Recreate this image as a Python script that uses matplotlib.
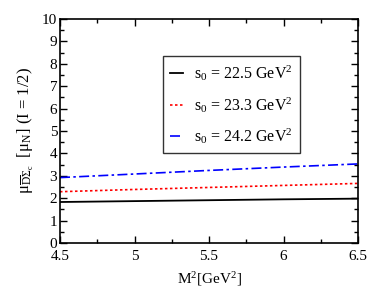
import numpy as np
import matplotlib
matplotlib.use("Agg")
import matplotlib.pyplot as plt
from matplotlib.ticker import MultipleLocator

plt.rcParams['font.family'] = ['Liberation Serif', 'DejaVu Serif']
plt.rcParams['mathtext.fontset'] = 'custom'
plt.rcParams['mathtext.rm'] = 'Liberation Serif'
plt.rcParams['mathtext.it'] = 'Liberation Serif:italic'
plt.rcParams['mathtext.bf'] = 'Liberation Serif:bold'

m2 = [4.5, 5.0, 5.5, 6.0, 6.5]
mu_225 = [1.83, 1.87, 1.91, 1.95, 1.98]
mu_233 = [2.29, 2.39, 2.48, 2.57, 2.66]
mu_242 = [2.92, 3.08, 3.24, 3.39, 3.53]
labels = [r'$\mathregular{s_0}$ = 22.5 GeV$\mathregular{^2}$',
          r'$\mathregular{s_0}$ = 23.3 GeV$\mathregular{^2}$',
          r'$\mathregular{s_0}$ = 24.2 GeV$\mathregular{^2}$']

fig = plt.figure(figsize=(3.74, 2.89), dpi=100)
ax = fig.add_axes([60/374, 1 - 243/289, 298/374, 224/289])

ax.plot(m2, mu_225, color='black', lw=1.3, ls='-', label=labels[0])
ax.plot(m2, mu_233, color='red', lw=1.2, ls=(0, (1.5, 1.5)), label=labels[1])
ax.plot(m2, mu_242, color='blue', lw=1.2, ls=(0, (6, 2, 1.5, 2)), label=labels[2])

ax.set_xlim(4.5, 6.5)
ax.set_ylim(0, 10)
ax.xaxis.set_major_locator(MultipleLocator(0.5))
ax.xaxis.set_minor_locator(MultipleLocator(0.25))
ax.yaxis.set_major_locator(MultipleLocator(1))
ax.yaxis.set_minor_locator(MultipleLocator(0.5))
ax.set_xticks([4.5, 5, 5.5, 6, 6.5])
ax.set_xticklabels(['4.5', '5', '5.5', '6', '6.5'])
ax.tick_params(which='both', direction='in', top=True, right=True, labelsize=11, width=1)
ax.tick_params(axis='x', pad=5)
ax.tick_params(axis='y', pad=2)
ax.tick_params(which='major', length=5)
ax.tick_params(which='minor', length=3)
for sp in ax.spines.values():
    sp.set_linewidth(1.2)

ax.set_xlabel(r'M$\mathregular{^2}$[GeV$\mathregular{^2}$]', fontsize=11, labelpad=5)
ax.set_ylabel(r'$\mathregular{\mu_{\overline{D}\Sigma_c}}$  [$\mathregular{\mu_N}$] (I = 1/2)', fontsize=12, labelpad=4)

leg = ax.legend(loc='upper left', bbox_to_anchor=(103/298, 1 - 37/224), fontsize=11.5,
                frameon=True, fancybox=False, edgecolor='black', handlelength=0.8,
                labelspacing=0.75, borderpad=0.45, handletextpad=0.7, borderaxespad=0)
leg.get_frame().set_linewidth(1.0)

fig.savefig('out.png', dpi=100)
